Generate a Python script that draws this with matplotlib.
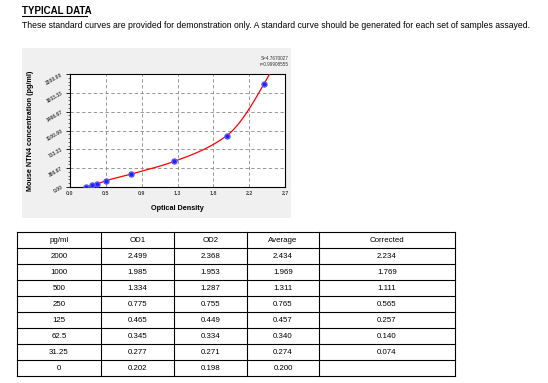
import numpy as np
import matplotlib
matplotlib.use("Agg")
import matplotlib.pyplot as plt
from matplotlib.patches import Rectangle

plt.rcParams['font.family'] = ['Liberation Sans', 'DejaVu Sans']

# ---- data ----
conc = [2000, 1000, 500, 250, 125, 62.5, 31.25, 0]
od1 = ["2.499", "1.985", "1.334", "0.775", "0.465", "0.345", "0.277", "0.202"]
od2 = ["2.368", "1.953", "1.287", "0.755", "0.449", "0.334", "0.271", "0.198"]
avg = [2.434, 1.969, 1.311, 0.765, 0.457, 0.340, 0.274, 0.200]
corrected = ["2.234", "1.769", "1.111", "0.565", "0.257", "0.140", "0.074", ""]
conc_labels = ["2000", "1000", "500", "250", "125", "62.5", "31.25", "0"]
avg_labels = ["2.434", "1.969", "1.311", "0.765", "0.457", "0.340", "0.274", "0.200"]
headers = ["pg/ml", "OD1", "OD2", "Average", "Corrected"]

x_ticks = [0.0, 0.45, 0.9, 1.35, 1.8, 2.25, 2.7]
x_tick_labels = ["0.0", "0.5", "0.9", "1.3", "1.8", "2.2", "2.7"]
y_ticks = [0.0, 366.67, 733.33, 1100.0, 1466.67, 1833.33, 2200.0]
y_tick_labels = ["0.00", "366.67", "733.33", "1100.00", "1466.67", "1833.33", "2200.00"]
fit_text = ["S=4.7670027", "r=0.99908555"]


def pchip(x, y, xs):
    x = np.asarray(x, float)
    y = np.asarray(y, float)
    o = np.argsort(x)
    x, y = x[o], y[o]
    h = np.diff(x)
    d = np.diff(y) / h
    n = len(x)
    m = np.zeros(n)
    for k in range(1, n - 1):
        if d[k - 1] * d[k] > 0:
            w1 = 2 * h[k] + h[k - 1]
            w2 = h[k] + 2 * h[k - 1]
            m[k] = (w1 + w2) / (w1 / d[k - 1] + w2 / d[k])
    m[0] = ((2 * h[0] + h[1]) * d[0] - h[0] * d[1]) / (h[0] + h[1])
    m[-1] = ((2 * h[-1] + h[-2]) * d[-1] - h[-1] * d[-2]) / (h[-1] + h[-2])
    m[0] = max(m[0], 0)
    out = np.empty_like(xs)
    for i, xv in enumerate(xs):
        k = int(np.clip(np.searchsorted(x, xv) - 1, 0, n - 2))
        t = (xv - x[k]) / h[k]
        h00 = 2 * t**3 - 3 * t**2 + 1
        h10 = t**3 - 2 * t**2 + t
        h01 = -2 * t**3 + 3 * t**2
        h11 = t**3 - t**2
        out[i] = h00 * y[k] + h10 * h[k] * m[k] + h01 * y[k + 1] + h11 * h[k] * m[k + 1]
    return out


W, H = 548, 383
fig = plt.figure(figsize=(W / 100, H / 100), dpi=100)

ov = fig.add_axes([0, 0, 1, 1])
ov.set_xlim(0, W)
ov.set_ylim(H, 0)
ov.axis('off')

# title
ov.text(22, 11, "TYPICAL DATA", fontsize=7, fontweight='bold', va='center', ha='left')
ov.plot([22, 87], [15.5, 15.5], color='black', lw=0.8)
ov.text(22, 26, "These standard curves are provided for demonstration only. A standard curve should be generated for each set of samples assayed.",
        fontsize=6.2, va='center', ha='left')

# gray panel
ov.add_patch(Rectangle((22, 48), 269, 170, facecolor='#f0f0f0', edgecolor='none', zorder=0))
ov.text(289, 58, fit_text[0], fontsize=3.3, ha='right', va='center', color='#333333')
ov.text(289, 64, fit_text[1], fontsize=3.3, ha='right', va='center', color='#333333')

# chart axes
left, right, top, bottom = 70, 285, 74, 187
ax = fig.add_axes([left / W, 1 - bottom / H, (right - left) / W, (bottom - top) / H])
ax.set_facecolor('white')
ax.set_xlim(0, 2.7)
ax.set_ylim(0, 2200)
ax.set_xticks(x_ticks)
ax.set_xticklabels(x_tick_labels, fontsize=3.8, fontweight='bold', color='#444444')
ax.set_yticks(y_ticks)
ax.set_yticklabels(y_tick_labels, fontsize=3.6, fontweight='bold', color='#444444', rotation=30)
ax.set_yticks(np.linspace(0, 2200, 31), minor=True)
ax.tick_params(axis='y', which='major', length=3, width=0.6, pad=1.5)
ax.tick_params(axis='y', which='minor', length=1.5, width=0.4)
ax.tick_params(axis='x', which='major', length=0, pad=3)
ax.grid(True, which='major', linestyle=(0, (4, 3)), color='#888888', lw=0.6)
for s in ax.spines.values():
    s.set_linewidth(0.8)
ax.set_xlabel("Optical Density", fontsize=5.2, fontweight='bold', labelpad=6)
ax.set_ylabel("Mouse NTN4 concentration (pg/ml)", fontsize=5.2, fontweight='bold', labelpad=8)

# fitted curve
xs = np.linspace(min(avg), 2.6, 400)
ys = pchip(avg, conc, xs)
ax.plot(xs, ys, color='red', lw=0.9, zorder=3, clip_on=True)
ax.plot(avg, conc, 'o', color='#2222ee', markeredgecolor='#5555ff', markersize=3.6, zorder=4)

# table
cols = [17, 101, 174, 247, 319, 455]
row_top, row_h, nrows = 232, 16, 9
for i in range(nrows + 1):
    y = row_top + i * row_h
    ov.plot([cols[0], cols[-1]], [y, y], color='black', lw=0.8)
for c in cols:
    ov.plot([c, c], [row_top, row_top + nrows * row_h], color='black', lw=0.8)

table_rows = [headers] + [[conc_labels[i], od1[i], od2[i], avg_labels[i], corrected[i]] for i in range(len(conc))]
for r, row in enumerate(table_rows):
    yc = row_top + r * row_h + row_h / 2
    for c, val in enumerate(row):
        xc = (cols[c] + cols[c + 1]) / 2
        ov.text(xc, yc, val, fontsize=5.7, ha='center', va='center')

fig.savefig("out.png", dpi=100)
